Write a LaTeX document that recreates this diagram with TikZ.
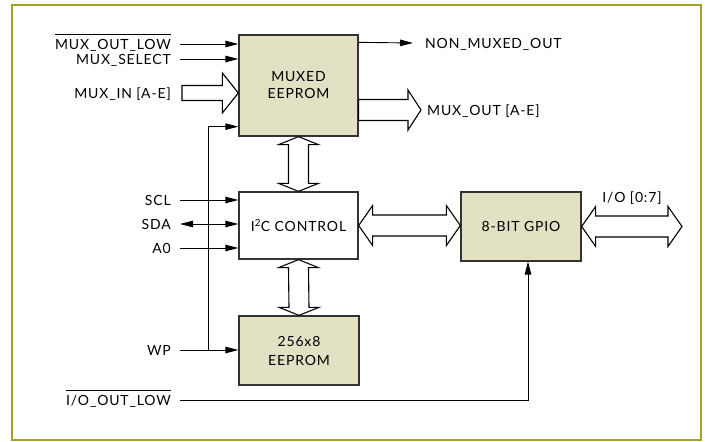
\documentclass[tikz,border=0pt]{standalone}
\usepackage{fontspec}
\setmainfont{Lato}[LetterSpace=6]
\usepackage{amsmath}
\usepackage{xcolor}
\usepackage{tikz}
\usetikzlibrary{arrows.meta, calc}
\tikzstyle{rectblock} = [rectangle, draw=black!80, line width=1.3pt, align=center, inner sep=0pt]
\tikzstyle{block} = [rectblock, fill=bbeige]
\tikzstyle{pin} = [anchor=east, inner xsep=9pt, inner ysep=0pt, text height=10pt, text depth=0pt]
\tikzstyle{pout} = [pin, anchor=west]
\tikzstyle{arrow} = [draw, -{Triangle[length=13pt, width=6.5pt]}, line width=0.9pt]
\tikzstyle{darrow} = [arrow, {Triangle[length=13pt, width=6.5pt]}-{Triangle[length=13pt, width=6.5pt]}]
\tikzstyle{bus} = [draw, fill=white, line width=1.1pt, line join=miter]
\definecolor{bolive}{HTML}{A0A02A}
\definecolor{bbeige}{HTML}{E2E1C4}
\newcommand{\negsig}[1]{$\overline{\rule{0pt}{13pt}\text{#1}}$}
% one-way bus, tail #1, tip #2, half shaft #3, head length #4
\newcommand{\hsbus}[4]{\draw[bus] ($(#1)+(0pt,#3)$) -- ($(#2)+(-#4,#3)$) -- ($(#2)+(-#4,20pt)$) -- (#2) -- ($(#2)+(-#4,-20pt)$) -- ($(#2)+(-#4,-#3)$) -- ($(#1)+(0pt,-#3)$) -- cycle;}
% two-way buses
\newcommand{\hbus}[2]{\draw[bus] (#1) -- ++(14pt,20pt) -- ++(0pt,-9.5pt) -- ($(#2)+(-14pt,10.5pt)$) -- ++(0pt,9.5pt) -- (#2) -- ++(-14pt,-20pt) -- ++(0pt,9.5pt) -- ($(#1)+(14pt,-10.5pt)$) -- ++(0pt,-9.5pt) -- cycle;}
\newcommand{\vbus}[2]{\draw[bus] (#1) -- ++(20pt,-8pt) -- ++(-10pt,0pt) -- ($(#2)+(10pt,8pt)$) -- ++(10pt,0pt) -- (#2) -- ++(-20pt,8pt) -- ++(10pt,0pt) -- ($(#1)+(-10pt,-8pt)$) -- ++(-10pt,0pt) -- cycle;}

\begin{document}
\begin{tikzpicture}[x=1pt, y=-1pt, font=\fontsize{14}{17}\selectfont]
    \useasboundingbox (0, 0) rectangle (705, 442);
    \draw[bolive, line width=2pt] (12, 5) rectangle (701, 440);

    % blocks
    \node[block, minimum width=119pt, minimum height=101pt] at (298.5, 85.5) (mux) {MUXED\\EEPROM};
    \node[rectblock, fill=white, minimum width=119pt, minimum height=67pt] at (298.5, 225.5) (i2c) {I\textsuperscript{2}C CONTROL};
    \node[block, minimum width=120pt, minimum height=69pt] at (299, 350.5) (eep) {256x8\\[2pt]EEPROM};
    \node[block, minimum width=120pt, minimum height=69pt] at (521, 226.5) (gpio) {8-BIT GPIO};

    % pins
    \node[pin] at (180, 44) (muxlow) {\negsig{MUX\_OUT\_LOW}};
    \node[pin] at (180, 59) (muxsel) {MUX\_SELECT};
    \node[pin, inner xsep=11pt] at (182, 93) (muxin) {MUX\_IN [A-E]};
    \node[pin] at (180, 200) (scl) {SCL};
    \node[pin] at (180, 224) (sda) {SDA};
    \node[pin] at (180, 248) (a0) {A0};
    \node[pin] at (180, 350) (wp) {WP};
    \node[pin] at (180, 400) (iolow) {\negsig{I/O\_OUT\_LOW}};
    \node[pout, inner xsep=12pt] at (413, 43) (nonmux) {NON\_MUXED\_OUT};
    \node[pout, inner xsep=6pt] at (421, 110) (muxout) {MUX\_OUT [A-E]};
    \node[pin, anchor=center, inner xsep=0pt] at (632, 197) (iolbl) {I/O [0:7]};
    \coordinate (ioend) at (682, 226.5);
    \coordinate (tap) at (208, 350);

    % signals
    \draw[arrow] (muxlow.east) -- (muxlow.east -| mux.west);
    \draw[arrow] (muxsel.east) -- (muxsel.east -| mux.west);
    \draw[arrow] (scl.east) -- (scl.east -| i2c.west);
    \draw[darrow] (sda.east) -- (sda.east -| i2c.west);
    \draw[arrow] (a0.east) -- (a0.east -| i2c.west);
    \draw[arrow] (wp.east) -- (wp.east -| eep.west);
    \draw[arrow] (tap) |- ([yshift=10pt]mux.south west);
    \draw[arrow] ([yshift=-8pt]mux.north east) -- (nonmux.west);
    \draw[arrow] (iolow.east) -| ([xshift=7pt]gpio.south);

    % buses
    \hsbus{muxin.east}{mux.west |- muxin.east}{7.5pt}{16pt}
    \hsbus{mux.east |- muxout.west}{muxout.west}{10.5pt}{13pt}
    \vbus{mux.south}{i2c.north}
    \vbus{i2c.south}{eep.north}
    \hbus{i2c.east}{i2c.east -| gpio.west}
    \hbus{gpio.east}{ioend}
\end{tikzpicture}
\end{document}
